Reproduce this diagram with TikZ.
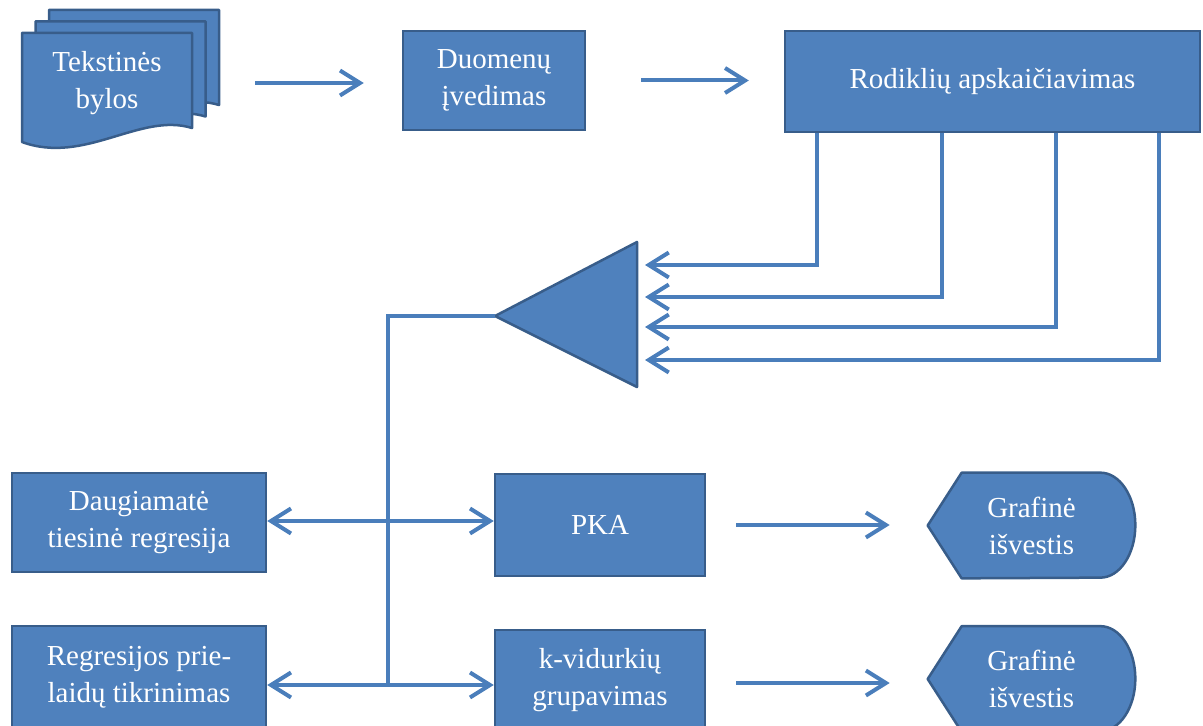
\documentclass[tikz,border=0pt]{standalone}
\usepackage{fontspec}
\setmainfont{Liberation Serif}
\usetikzlibrary{positioning}
\usetikzlibrary{calc}
\usetikzlibrary{arrows.meta}
\usetikzlibrary{backgrounds}
\definecolor{boxfill}{HTML}{4F81BD}
\definecolor{boxline}{HTML}{385D8A}
\definecolor{arrline}{HTML}{4A7EBB}

\begin{document}
\begin{tikzpicture}[
		x=0.02cm, y=-0.02cm,
		every node/.style = {
			align=center,
			text=white,
			inner sep=0pt,
			font=\fontsize{16.5}{21}\selectfont
		},
		box/.style={shape=rectangle, draw=boxline, fill=boxfill, line width=0.05cm},
		shp/.style={draw=boxline, fill=boxfill, line width=0.05cm, line join=round},
		conn/.style={draw=arrline, line width=0.08cm},
		arr/.style={conn, -{Straight Barb[length=0.4cm, width=0.5cm]}}
		]
		\useasboundingbox (0,0) rectangle (1203,726);

		% tekstines bylos (three pages)
		\foreach \i in {2,1,0}
			\draw[shp, shift={(\i*13.5,-\i*11.5)}] (22,33) -- (192,33) -- (192,128)
				.. controls (140,112) and (85,165) .. (22,142) -- cycle;
		\node[minimum width=3.4cm] (bylos) at (107,83) {Tekstinės\\bylos};

		\node[box, minimum width=3.64cm, minimum height=1.98cm] (duom) at (494,80.5) {Duomenų\\įvedimas};
		\node[box, minimum width=8.3cm, minimum height=2.02cm] (rod) at (992.5,81.5) {Rodiklių apskaičiavimas};

		% trikampis
		\coordinate (tA) at (495,316);
		\coordinate (tT) at (637,242);
		\coordinate (tB) at (637,387);
		\draw[shp] (tA) -- (tT) -- (tB) -- cycle;
		\coordinate (in1) at (637,265);
		\coordinate (in2) at (637,297);
		\coordinate (in3) at (637,327);
		\coordinate (in4) at (637,360);

		\node[box, minimum width=5.08cm, minimum height=1.98cm] (daug) at (139,522.5) {Daugiamatė\\tiesinė regresija};
		\node[box, minimum width=5.08cm, minimum height=2.04cm] (regr) at (139,677) {Regresijos prie-\\laidų tikrinimas};
		\node[box, minimum width=4.2cm, minimum height=2.04cm] (pka) at (600,525) {PKA};
		\node[box, minimum width=4.2cm, minimum height=2cm] (kvid) at (600,680) {k-vidurkių\\grupavimas};
		\node[minimum width=4.14cm, minimum height=2.1cm] (graf1) at (1031.5,525.5) {Grafinė\\išvestis};
		\node[minimum width=4.14cm, minimum height=2.1cm] (graf2) at (1031.5,679) {Grafinė\\išvestis};

		\begin{scope}[on background layer]
			\foreach \g in {graf1,graf2}
				\draw[shp] (\g.west) -- ([xshift=0.68cm]\g.north west) -- ([xshift=-0.7cm]\g.north east)
					arc[start angle=90, end angle=-90, x radius=0.7cm, y radius=1.05cm]
					-- ([xshift=0.68cm]\g.south west) -- cycle;
		\end{scope}

		% rodykles
		\draw[arr, shorten <=1.26cm, shorten >=0.76cm] (bylos.east) -- (bylos.east -| duom.west);
		\draw[arr, shorten <=1.1cm, shorten >=0.7cm] (duom.east) -- (duom.east -| rod.west);
		\foreach \dx/\n in {33/1, 158/2, 272/3, 375/4}
			\draw[arr, shorten >=0.16cm] ($(rod.south west)+(\dx,0)$) |- (in\n);

		\coordinate (sk) at (388,316);
		\coordinate (s1) at (388,521);
		\coordinate (s2) at (388,685);
		\draw[conn] (tA) -- (sk) -- (s2);
		\draw[arr] (s1) -- (s1 -| daug.east);
		\draw[arr] (s1) -- (s1 -| pka.west);
		\draw[arr] (s2) -- (s2 -| regr.east);
		\draw[arr] (s2) -- (s2 -| kvid.west);

		\draw[arr, shorten <=0.6cm, shorten >=0.76cm] (pka.east) -- (pka.east -| graf1.west);
		\draw[arr, shorten <=0.6cm, shorten >=0.76cm] (kvid.east |- 0,683) -- (graf2.west |- 0,683);
	\end{tikzpicture}
\end{document}
